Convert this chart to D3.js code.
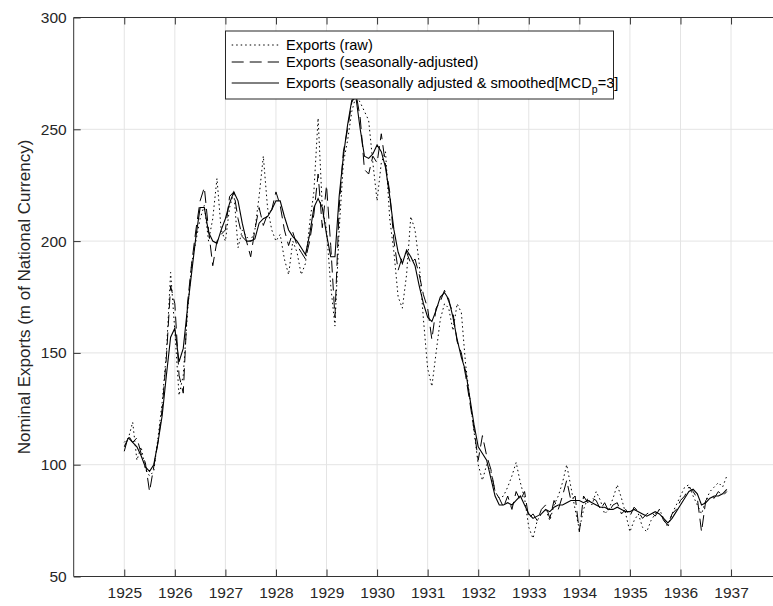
<!DOCTYPE html>
<html><head><meta charset="utf-8">
<script src="https://cdn.jsdelivr.net/npm/d3@7"></script>
<style>
body{margin:0;background:#fff;}
svg{display:block;font-family:"Liberation Sans",Arial,Helvetica,sans-serif;}
</style>
</head><body>
<svg id="chart" width="773" height="606"></svg>
<script>
// ---------- data (monthly, Jan 1925 .. Dec 1936) ----------
const startYear = 1925;
const yearTicks = [1925,1926,1927,1928,1929,1930,1931,1932,1933,1934,1935,1936,1937];
const valueTicks = [50,100,150,200,250,300];
const seriesNames = ["Exports (raw)", "Exports (seasonally-adjusted)", "Exports (seasonally adjusted & smoothed[MCD"];

const rawExports = [
  110,112,119,102,108,98,95,97,112,128,150,186,
  160,131,140,168,190,200,210,216,200,210,228,205,
  200,215,222,197,205,202,200,205,220,238,215,205,
  200,203,192,185,200,195,185,190,208,222,255,215,
  205,180,162,205,235,245,258,265,262,258,254,235,
  218,235,240,210,195,175,170,185,211,205,190,165,
  143,135,150,165,172,170,160,172,168,145,130,115,
  100,93,100,97,88,85,86,90,95,101,92,85,
  72,67,75,78,80,75,82,86,92,100,90,80,
  71,80,85,82,88,84,78,80,85,91,85,78,
  70,75,78,72,70,75,78,80,76,72,78,82,
  86,90,91,86,82,78,84,88,90,92,90,95
];
const saExports = [
  106,113,110,112,105,101,88,99,110,125,148,180,
  172,140,132,172,190,205,218,224,205,189,200,203,
  205,220,222,210,202,200,193,205,215,207,212,214,
  222,216,205,198,204,198,195,192,200,212,230,206,
  225,198,166,215,240,250,262,266,255,232,230,238,
  235,248,234,222,200,187,193,195,190,192,185,176,
  170,156,170,173,178,173,168,155,150,140,128,116,
  102,113,104,98,88,85,81,86,80,88,84,88,
  76,78,75,80,82,76,84,80,86,93,84,86,
  70,86,83,85,84,80,83,79,82,83,78,80,
  77,81,79,76,78,79,77,80,75,73,78,80,
  84,86,90,88,85,70,84,86,85,88,86,88
];
const smoothExports = [
  108,112,110,108,104,99,97,100,110,122,140,157,
  161,146,152,170,186,202,215,215,204,200,199,205,
  210,217,222,218,208,200,200,201,208,210,211,214,
  218,218,211,205,202,200,197,194,203,215,219,215,
  203,193,193,220,238,252,263,264,250,238,237,239,
  243,240,233,220,205,195,190,196,193,189,180,172,
  166,164,169,175,177,174,166,156,148,142,130,118,
  108,105,102,94,86,82,82,83,82,84,86,82,
  78,76,77,78,80,79,81,82,82,83,84,84,
  84,83,84,83,82,81,81,80,80,81,80,79,
  79,80,79,78,77,78,79,78,76,74,76,79,
  82,85,88,89,87,82,83,85,86,86,87,89
];

(function () {
// ---------- layout ----------
const W = 773;
const padL = 73.7, padT = 17.5, padB = 576.5;
const svg = d3.select("#chart");

const x = d3.scaleLinear().domain([1924, 1938]).range([padL, 781.6]);
const y = d3.scaleLinear().domain([50, 300]).range([padB, padT]);
const tOf = i => startYear + i / 12;

// grid
const grid = svg.append("g").attr("stroke", "#e4e4e4").attr("stroke-width", 1);
grid.selectAll("line.v").data(yearTicks).join("line").attr("class", "v")
  .attr("x1", d => x(d)).attr("x2", d => x(d)).attr("y1", padT).attr("y2", padB);
grid.selectAll("line.h").data(valueTicks.filter(v => v > 50 && v < 300)).join("line").attr("class", "h")
  .attr("x1", padL).attr("x2", W).attr("y1", d => y(d)).attr("y2", d => y(d));

// series
const line = d3.line().x((d, i) => x(tOf(i))).y(d => y(d));
const plot = svg.append("g").attr("fill", "none").attr("stroke", "#000");
plot.append("path").datum(rawExports).attr("d", line)
  .attr("stroke-width", 1).attr("stroke-dasharray", "1.5,3");
plot.append("path").datum(saExports).attr("d", line)
  .attr("stroke-width", 1).attr("stroke-dasharray", "12,6");
plot.append("path").datum(smoothExports).attr("d", line)
  .attr("stroke-width", 1.1);

// axes
const axisColor = "#333";
const fmt = d3.format("d");
const gx = svg.append("g").attr("transform", `translate(0,${padB})`)
  .call(d3.axisBottom(x).tickValues(yearTicks).tickFormat(fmt).tickSize(-7).tickPadding(10));
const gxt = svg.append("g").attr("transform", `translate(0,${padT})`)
  .call(d3.axisTop(x).tickValues(yearTicks).tickFormat("").tickSize(-7));
const gy = svg.append("g").attr("transform", `translate(${padL},0)`)
  .call(d3.axisLeft(y).tickValues(valueTicks).tickFormat(fmt).tickSize(-7).tickPadding(7));
[gx, gxt, gy].forEach(g => {
  g.select(".domain").remove();
  g.selectAll(".tick line").attr("stroke", axisColor);
  g.selectAll("text").attr("fill", "#262626").style("font-size", "15.5px")
    .style("font-family", '"Liberation Sans",Arial,Helvetica,sans-serif');
});
svg.append("line").attr("x1", padL).attr("x2", padL).attr("y1", padT).attr("y2", padB)
  .attr("stroke", axisColor).attr("stroke-width", 1);
svg.append("line").attr("x1", padL).attr("x2", W).attr("y1", padT).attr("y2", padT)
  .attr("stroke", axisColor).attr("stroke-width", 1);
svg.append("line").attr("x1", padL).attr("x2", W).attr("y1", padB).attr("y2", padB)
  .attr("stroke", axisColor).attr("stroke-width", 1);

// y label
svg.append("text")
  .attr("transform", `translate(24,${(padT + padB) / 2}) rotate(-90)`)
  .attr("text-anchor", "middle").attr("dy", "0.35em")
  .attr("fill", "#262626").style("font-size", "17px")
  .text("Nominal Exports (m of National Currency)");

// legend
const lg = svg.append("g");
lg.append("rect").attr("x", 225.5).attr("y", 31).attr("width", 388).attr("height", 68)
  .attr("fill", "#fff").attr("stroke", "#262626").attr("stroke-width", 1);
const rowsY = [45, 62, 83];
const dashes = ["1.5,3", "12,6", null];
seriesNames.forEach((name, k) => {
  const l = lg.append("line").attr("x1", 231.7).attr("x2", 279)
    .attr("y1", rowsY[k]).attr("y2", rowsY[k]).attr("stroke", "#000").attr("stroke-width", 1);
  if (dashes[k]) l.attr("stroke-dasharray", dashes[k]);
  const t = lg.append("text").attr("x", 286).attr("y", rowsY[k]).attr("dy", "0.35em")
    .attr("fill", "#000").style("font-size", "14.6px");
  t.append("tspan").text(name);
  if (k === 2) {
    t.append("tspan").attr("dy", 5).style("font-size", "10.5px").text("p");
    t.append("tspan").attr("dy", -5).text("=3]");
  }
});
})();
</script>
</body></html>
